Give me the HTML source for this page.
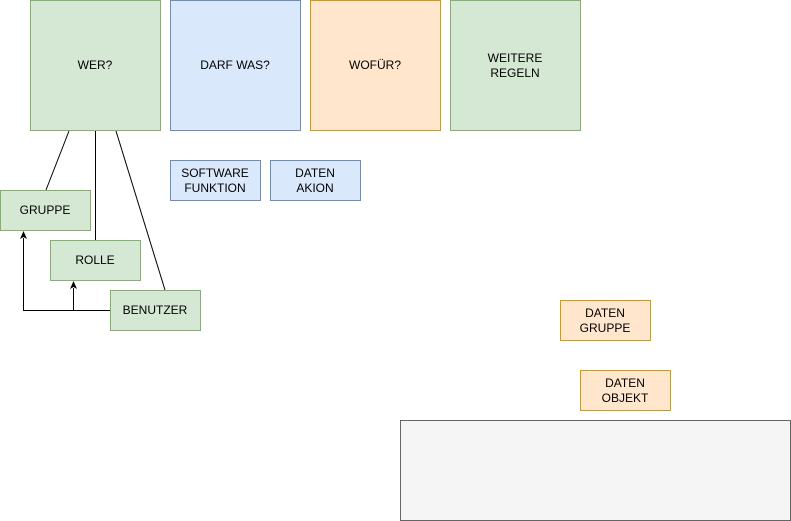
<!DOCTYPE html>
<html><head><meta charset="utf-8"><style>
html,body{margin:0;padding:0;background:#fff;width:791px;height:521px;overflow:hidden}
text{font-family:"Liberation Sans",Arial,sans-serif;font-size:12px;fill:#000;text-anchor:middle}
</style></head><body>
<svg width="791" height="521" xmlns="http://www.w3.org/2000/svg">
<g stroke-width="1">
<rect x="30.5" y="0.5" width="130" height="130" fill="#d5e8d4" stroke="#82b366"/>
<rect x="170.5" y="0.5" width="130" height="130" fill="#dae8fc" stroke="#6c8ebf"/>
<rect x="310.5" y="0.5" width="130" height="130" fill="#ffe6cc" stroke="#d79b00"/>
<rect x="450.5" y="0.5" width="130" height="130" fill="#d5e8d4" stroke="#82b366"/>
<rect x="170.5" y="160.5" width="90" height="40" fill="#dae8fc" stroke="#6c8ebf"/>
<rect x="270.5" y="160.5" width="90" height="40" fill="#dae8fc" stroke="#6c8ebf"/>
<rect x="0.5" y="190.5" width="90" height="40" fill="#d5e8d4" stroke="#82b366"/>
<rect x="50.5" y="240.5" width="90" height="40" fill="#d5e8d4" stroke="#82b366"/>
<rect x="110.5" y="290.5" width="90" height="40" fill="#d5e8d4" stroke="#82b366"/>
<rect x="560.5" y="300.5" width="90" height="40" fill="#ffe6cc" stroke="#d79b00"/>
<rect x="580.5" y="370.5" width="90" height="40" fill="#ffe6cc" stroke="#d79b00"/>
<rect x="400.5" y="420.5" width="390" height="100" fill="#f5f5f5" stroke="#666666"/>
</g>
<g stroke="#000" fill="none">
<line x1="69" y1="131" x2="46" y2="190"/>
<line x1="95.5" y1="131" x2="95.5" y2="240"/>
<line x1="116" y1="131" x2="165" y2="290"/>
<polyline points="110,310.5 23.5,310.5 23.5,238"/>
<line x1="73.5" y1="310" x2="73.5" y2="288"/>
</g>
<g fill="#000">
<polygon points="23.5,231 20,239 23.5,237 27,239"/>
<polygon points="73.5,281 70,289 73.5,287 77,289"/>
</g>
<text x="95" y="69">WER?</text>
<text x="235" y="69">DARF WAS?</text>
<text x="375" y="69">WOFÜR?</text>
<text x="515" y="62">WEITERE</text>
<text x="515" y="77">REGELN</text>
<text x="215" y="177">SOFTWARE</text>
<text x="215" y="192">FUNKTION</text>
<text x="315" y="177">DATEN</text>
<text x="315" y="192">AKION</text>
<text x="45" y="214">GRUPPE</text>
<text x="95" y="264">ROLLE</text>
<text x="155" y="314">BENUTZER</text>
<text x="605" y="317">DATEN</text>
<text x="605" y="332">GRUPPE</text>
<text x="625" y="387">DATEN</text>
<text x="625" y="402">OBJEKT</text>
</svg>
</body></html>
